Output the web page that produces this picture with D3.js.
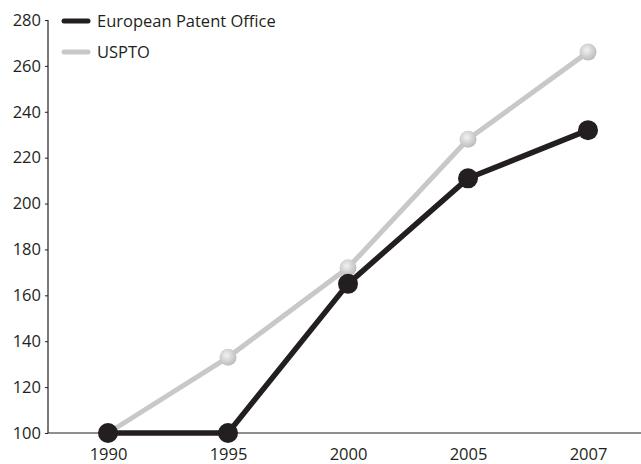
<!DOCTYPE html>
<html><head><meta charset="utf-8">
<script src="https://cdn.jsdelivr.net/npm/d3@7"></script>
<style>body{margin:0;background:#fff}svg{display:block}text{font-family:"Open Sans",sans-serif;fill:#231f20}</style>
</head><body>
<svg id="c" width="641" height="464"></svg>
<script>
const years = ["1990","1995","2000","2005","2007"];
const epo = [100, 100, 165, 211, 232];
const uspto = [100, 133, 172, 228, 266];
const yTicks = [100,120,140,160,180,200,220,240,260,280];
const seriesNames = ["European Patent Office","USPTO"];

const svg = d3.select("#c");
const x = d3.scalePoint().domain(years).range([48, 648]).padding(0.5);
const y = d3.scaleLinear().domain([100, 280]).range([433, 20]);

const defs = svg.append("defs");
const g = defs.append("radialGradient").attr("id","gball").attr("cx","0.42").attr("cy","0.38").attr("r","0.65");
g.append("stop").attr("offset","0").attr("stop-color","#f2f2f2");
g.append("stop").attr("offset","1").attr("stop-color","#b9b9b9");

// y axis
const ya = svg.append("g").attr("transform","translate(48,0)")
  .call(d3.axisLeft(y).tickValues(yTicks).tickSize(3).tickPadding(4));
ya.select(".domain").attr("stroke","#231f20").attr("stroke-width",1.2).attr("d","M0,"+y(280)+"V"+y(100));
ya.selectAll(".tick line").attr("stroke","#231f20");
ya.selectAll(".tick text").attr("font-size",16.5).attr("fill","#231f20").attr("font-family","Open Sans");

// x axis
const xa = svg.append("g").attr("transform","translate(0,433)")
  .call(d3.axisBottom(x).tickSize(0).tickPadding(15));
xa.select(".domain").attr("stroke","#231f20").attr("stroke-width",1.2).attr("d","M48,0H641");
xa.selectAll(".tick text").attr("font-size",16.5).attr("fill","#231f20").attr("font-family","Open Sans");

const line = d3.line().x((d,i)=>x(years[i])).y(d=>y(d));

svg.append("path").datum(uspto).attr("d",line).attr("fill","none")
  .attr("stroke","#c8c8c8").attr("stroke-width",5).attr("stroke-linejoin","round");
svg.selectAll(".pu").data(uspto).enter().append("circle")
  .attr("cx",(d,i)=>x(years[i])).attr("cy",d=>y(d)).attr("r",8.5).attr("fill","url(#gball)");

svg.append("path").datum(epo).attr("d",line).attr("fill","none")
  .attr("stroke","#231f20").attr("stroke-width",5.5).attr("stroke-linejoin","round");
svg.selectAll(".pe").data(epo).enter().append("circle")
  .attr("cx",(d,i)=>x(years[i])).attr("cy",d=>y(d)).attr("r",10).attr("fill","#231f20");

// legend
const colors = ["#231f20","#c8c8c8"];
seriesNames.forEach((n,i)=>{
  const ly = 21 + i*31;
  svg.append("line").attr("x1",64).attr("x2",88).attr("y1",ly).attr("y2",ly)
    .attr("stroke",colors[i]).attr("stroke-width",5).attr("stroke-linecap","round");
  svg.append("text").attr("x",97).attr("y",ly).attr("dy","0.35em").attr("font-size",16.5).text(n);
});
</script>
</body></html>
